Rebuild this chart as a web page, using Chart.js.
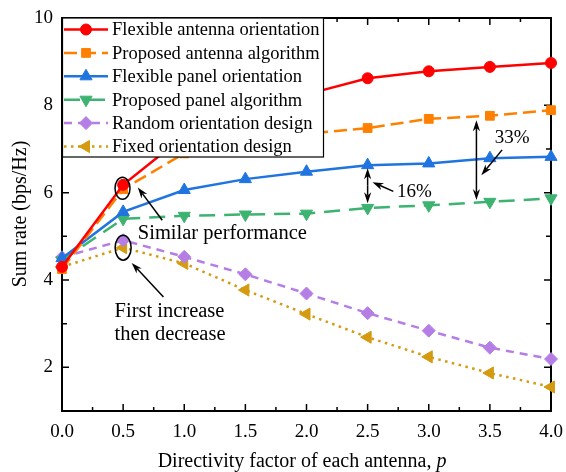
<!DOCTYPE html>
<html>
<head>
<meta charset="utf-8">
<script src="https://cdn.jsdelivr.net/npm/chart.js@4.4.1/dist/chart.umd.min.js"></script>
<style>
html, body { margin: 0; padding: 0; background: #fff; }
#chart { display: block; }
</style>
</head>
<body>
<canvas id="chart" width="566" height="472"></canvas>
<script>
// Data
const pValues = [0, 0.5, 1, 1.5, 2, 2.5, 3, 3.5, 4];
const flexAntenna = [4.30, 6.18, 7.30, 7.85, 8.25, 8.62, 8.78, 8.88, 8.97];
const propAntenna = [4.25, 6.08, 6.90, 7.18, 7.35, 7.48, 7.69, 7.76, 7.89];
const flexPanel = [4.50, 5.56, 6.06, 6.31, 6.48, 6.63, 6.67, 6.79, 6.82];
const propPanel = [4.45, 5.40, 5.47, 5.50, 5.52, 5.65, 5.71, 5.79, 5.87];
const randomDesign = [4.52, 4.91, 4.53, 4.13, 3.69, 3.24, 2.84, 2.45, 2.19];
const fixedDesign = [4.30, 4.74, 4.38, 3.77, 3.22, 2.69, 2.24, 1.87, 1.55];
const xTicks = [0, 0.5, 1, 1.5, 2, 2.5, 3, 3.5, 4];
const yTicks = [2, 4, 6, 8, 10];

const FONT = '"Liberation Serif", "Times New Roman", serif';

function toPoints(arr) {
    return pValues.map((p, i) => ({ x: p, y: arr[i] }));
}

function series(label, arr, color, style, rotation, radius, dash) {
    return {
        label: label,
        data: toPoints(arr),
        borderColor: color,
        backgroundColor: color,
        pointBackgroundColor: color,
        pointBorderColor: color,
        borderWidth: 2.5,
        borderDash: dash,
        pointStyle: style,
        pointRotation: rotation,
        pointRadius: radius,
        pointBorderWidth: 1,
        tension: 0,
        clip: false
    };
}

const datasets = [
    series('Flexible antenna orientation', flexAntenna, '#ff0000', 'circle', 0, 5.5, []),
    series('Proposed antenna algorithm', propAntenna, '#ff8000', 'rect', 0, 6.2, [13, 6]),
    series('Flexible panel orientation', flexPanel, '#1f74e0', 'triangle', 0, 7, []),
    series('Proposed panel algorithm', propPanel, '#3cb371', 'triangle', 180, 7, [16, 9]),
    series('Random orientation design', randomDesign, '#b57ee5', 'rectRot', 0, 6.5, [8, 6]),
    series('Fixed orientation design', fixedDesign, '#d49a10', 'triangle', -90, 7, [2.5, 4.5])
];

function drawArrow(ctx, x1, y1, x2, y2) {
    const a = Math.atan2(y2 - y1, x2 - x1);
    const L = 11, W = 3.6;
    const c = Math.cos(a), s = Math.sin(a);
    ctx.beginPath();
    ctx.moveTo(x1, y1);
    ctx.lineTo(x2 - c * L * 0.7, y2 - s * L * 0.7);
    ctx.stroke();
    ctx.beginPath();
    ctx.moveTo(x2, y2);
    ctx.lineTo(x2 - c * L + s * W, y2 - s * L - c * W);
    ctx.lineTo(x2 - c * L * 0.7, y2 - s * L * 0.7);
    ctx.lineTo(x2 - c * L - s * W, y2 - s * L + c * W);
    ctx.closePath();
    ctx.fill();
}

// Frame, inward ticks, legend box, annotations and axis titles
const decorPlugin = {
    id: 'decor',
    beforeDatasetsDraw(chart) {
        const ctx = chart.ctx;
        const a = chart.chartArea;
        const xs = chart.scales.x, ys = chart.scales.y;
        ctx.save();
        ctx.strokeStyle = '#000';
        ctx.lineWidth = 1.5;
        // x ticks, major every 0.5, minor in between
        for (let v = 0; v <= 4.001; v += 0.25) {
            const px = xs.getPixelForValue(v);
            const len = Math.abs(v * 2 - Math.round(v * 2)) < 1e-6 ? 7 : 4;
            ctx.beginPath();
            ctx.moveTo(px, a.bottom); ctx.lineTo(px, a.bottom - len);
            ctx.moveTo(px, a.top); ctx.lineTo(px, a.top + len);
            ctx.stroke();
        }
        for (let v = 1; v <= 10; v += 1) {
            const py = ys.getPixelForValue(v);
            const len = v % 2 === 0 ? 7 : 5;
            ctx.beginPath();
            ctx.moveTo(a.left, py); ctx.lineTo(a.left + len, py);
            ctx.moveTo(a.right, py); ctx.lineTo(a.right - len, py);
            ctx.stroke();
        }
        ctx.lineWidth = 2;
        ctx.strokeRect(a.left, a.top, a.right - a.left, a.bottom - a.top);
        ctx.restore();
    },
    afterDatasetsDraw(chart) {
        const ctx = chart.ctx;
        const a = chart.chartArea;
        const xs = chart.scales.x, ys = chart.scales.y;
        const X = v => xs.getPixelForValue(v);
        const Y = v => ys.getPixelForValue(v);
        ctx.save();

        // legend in the top-left corner
        const lx = a.left, ly = a.top, lw = 261, lh = 139;
        ctx.fillStyle = '#fff';
        ctx.fillRect(lx, ly, lw, lh);
        ctx.strokeStyle = '#000';
        ctx.lineWidth = 1.2;
        ctx.strokeRect(lx + 0.5, ly, lw, lh);
        ctx.font = '18.5px ' + FONT;
        ctx.textBaseline = 'middle';
        ctx.textAlign = 'left';
        chart.data.datasets.forEach((ds, i) => {
            const ry = ly + 11.5 + i * 23.4;
            ctx.strokeStyle = ds.borderColor;
            ctx.lineWidth = ds.borderWidth;
            ctx.setLineDash(ds.borderDash);
            ctx.beginPath();
            ctx.moveTo(lx + 2, ry); ctx.lineTo(lx + 46, ry);
            ctx.stroke();
            ctx.setLineDash([]);
            ctx.fillStyle = ds.backgroundColor;
            ctx.lineWidth = 1;
            Chart.helpers.drawPoint(ctx, {
                pointStyle: ds.pointStyle, rotation: ds.pointRotation,
                radius: ds.pointRadius, borderWidth: 1
            }, lx + 24, ry);
            ctx.fillStyle = '#000';
            ctx.fillText(ds.label, lx + 50, ry + 1);
        });

        // annotations
        ctx.strokeStyle = '#000';
        ctx.fillStyle = '#000';
        ctx.lineWidth = 1.5;
        ctx.beginPath();
        ctx.ellipse(X(0.495), Y(6.10), 7.5, 11, 0, 0, Math.PI * 2);
        ctx.stroke();
        ctx.beginPath();
        ctx.ellipse(X(0.5), Y(4.74), 8, 12.5, 0, 0, Math.PI * 2);
        ctx.stroke();
        drawArrow(ctx, X(0.82), Y(5.37), X(0.62), Y(6.12));
        drawArrow(ctx, X(0.83), Y(3.61), X(0.57), Y(4.39));

        // double arrows for the gaps
        const d1 = X(2.5), d2 = X(3.39);
        drawArrow(ctx, d1, Y(6.16), d1, Y(6.56));
        drawArrow(ctx, d1, Y(6.16), d1, Y(5.76));
        drawArrow(ctx, d2, Y(6.75), d2, Y(7.66));
        drawArrow(ctx, d2, Y(6.75), d2, Y(5.83));
        drawArrow(ctx, X(2.71), Y(6.03), X(2.54), Y(6.24));
        drawArrow(ctx, X(3.60), Y(6.98), X(3.43), Y(6.40));

        ctx.textBaseline = 'middle';
        ctx.textAlign = 'left';
        ctx.font = '20.5px ' + FONT;
        ctx.fillText('Similar performance', X(0.62), Y(5.07));
        ctx.fillText('First increase', X(0.43), Y(3.27));
        ctx.fillText('then decrease', X(0.43), Y(2.74));
        ctx.font = '19px ' + FONT;
        ctx.fillText('16%', X(2.74), Y(6.01));
        ctx.fillText('33%', X(3.54), Y(7.25));

        ctx.restore();
    },
    afterDraw(chart) {
        const ctx = chart.ctx;
        ctx.save();
        ctx.fillStyle = '#000';
        // x title with italic p
        const t1 = 'Directivity factor of each antenna, ';
        ctx.font = '20px ' + FONT;
        const w1 = ctx.measureText(t1).width;
        ctx.font = 'italic 20px ' + FONT;
        const w2 = ctx.measureText('p').width;
        const sx = 302 - (w1 + w2) / 2;
        ctx.textBaseline = 'middle';
        ctx.textAlign = 'left';
        ctx.font = '20px ' + FONT;
        ctx.fillText(t1, sx, 462);
        ctx.font = 'italic 20px ' + FONT;
        ctx.fillText('p', sx + w1, 462);
        // y title
        ctx.translate(26, 214);
        ctx.rotate(-Math.PI / 2);
        ctx.font = '20px ' + FONT;
        ctx.textAlign = 'center';
        ctx.textBaseline = 'alphabetic';
        ctx.fillText('Sum rate (bps/Hz)', 0, 0);
        ctx.restore();
    }
};

new Chart(document.getElementById('chart'), {
    type: 'line',
    data: { datasets: datasets },
    options: {
        responsive: false,
        animation: false,
        layout: { padding: { left: 0, right: 15, top: 18, bottom: 0 } },
        plugins: {
            legend: { display: false },
            tooltip: { enabled: false }
        },
        scales: {
            x: {
                type: 'linear',
                min: 0,
                max: 4,
                afterBuildTicks: s => { s.ticks = xTicks.map(v => ({ value: v })); },
                afterFit: s => { s.height = 61; s.paddingLeft = 0; s.paddingRight = 0; },
                grid: { display: false, drawTicks: false },
                border: { display: false },
                ticks: {
                    padding: 10,
                    color: '#000',
                    font: { family: FONT, size: 19 },
                    maxRotation: 0,
                    callback: v => Number(v).toFixed(1)
                }
            },
            y: {
                type: 'linear',
                min: 1,
                max: 10,
                afterBuildTicks: s => { s.ticks = yTicks.map(v => ({ value: v })); },
                afterFit: s => { s.width = 62; s.paddingTop = 0; s.paddingBottom = 0; },
                grid: { display: false, drawTicks: false },
                border: { display: false },
                ticks: {
                    padding: 9,
                    color: '#000',
                    font: { family: FONT, size: 19 },
                    callback: v => String(v)
                }
            }
        }
    },
    plugins: [decorPlugin]
});
</script>
</body>
</html>
